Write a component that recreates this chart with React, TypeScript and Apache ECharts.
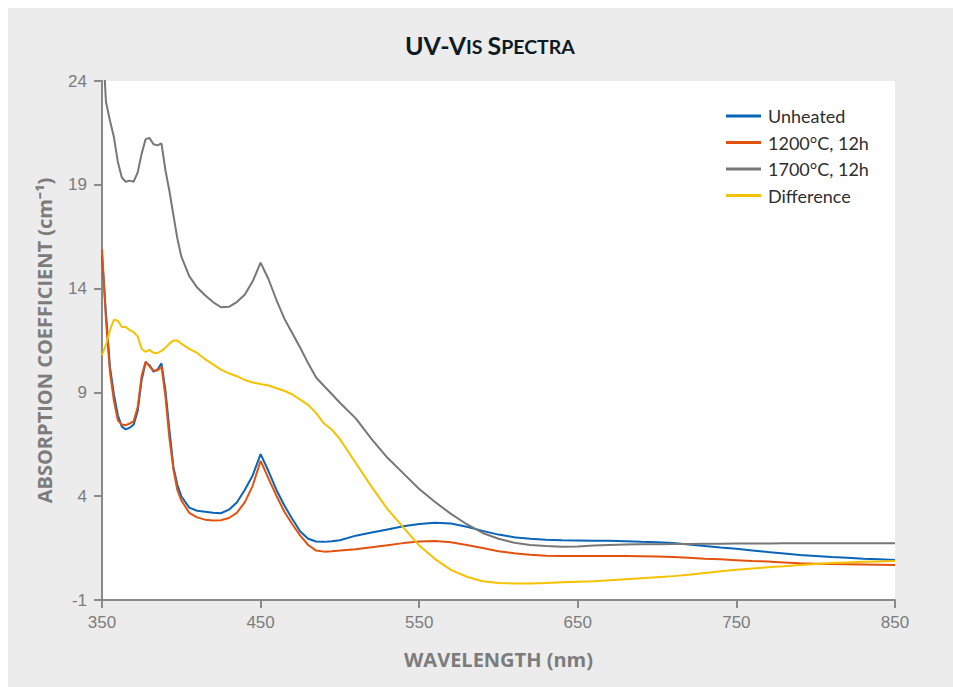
import React, { useEffect, useRef } from "react";
import * as echarts from "echarts";

const wavelengths = [
  350, 352.5, 355, 357.5, 360, 362.5, 365, 367.5, 370, 372.5, 375, 377.5, 380, 382.5, 385, 387.5, 390, 392.5, 395, 397.5,
  400, 405, 410, 415, 420, 425, 430, 435, 440, 445, 450, 455, 460, 465, 470, 475, 480, 485, 490, 495,
  500, 510, 520, 530, 540, 550, 560, 570, 580, 590, 600, 610, 620, 630, 640, 650, 660, 670, 680, 690,
  700, 710, 720, 730, 740, 750, 760, 770, 780, 790, 800, 810, 820, 830, 840, 850,
];

const unheated = [
  15.6, 12.8, 10.24, 8.9, 7.9, 7.35, 7.22, 7.3, 7.45, 8.1, 9.6, 10.45, 10.3, 10.0, 10.1, 10.4, 9.1, 7.2, 5.42, 4.55,
  4.0, 3.45, 3.3, 3.25, 3.2, 3.18, 3.35, 3.7, 4.3, 5.0, 6.03, 5.2, 4.3, 3.55, 2.9, 2.3, 1.95, 1.82, 1.8, 1.83,
  1.88, 2.1, 2.25, 2.4, 2.55, 2.66, 2.72, 2.68, 2.53, 2.33, 2.15, 2.02, 1.95, 1.9, 1.88, 1.87, 1.86, 1.85, 1.83, 1.8,
  1.78, 1.74, 1.67, 1.6, 1.53, 1.47, 1.39, 1.31, 1.24, 1.17, 1.12, 1.07, 1.03, 0.99, 0.96, 0.93,
];

const heated1200 = [
  15.9, 12.5, 10.0, 8.6, 7.65, 7.45, 7.42, 7.5, 7.62, 8.3, 9.8, 10.48, 10.25, 10.05, 10.05, 10.25, 8.8, 6.8, 5.3, 4.3,
  3.8, 3.2, 2.98, 2.87, 2.83, 2.84, 2.95, 3.2, 3.7, 4.5, 5.7, 4.85, 4.02, 3.25, 2.65, 2.1, 1.65, 1.38, 1.33, 1.35,
  1.38, 1.45, 1.54, 1.64, 1.74, 1.82, 1.84, 1.78, 1.65, 1.5, 1.35, 1.25, 1.18, 1.13, 1.12, 1.12, 1.12, 1.12, 1.12, 1.11,
  1.1, 1.07, 1.03, 0.99, 0.96, 0.92, 0.88, 0.85, 0.81, 0.77, 0.75, 0.73, 0.72, 0.71, 0.7, 0.69,
];

const heated1700 = [
  26.5, 23.0, 22.1, 21.3, 20.1, 19.35, 19.15, 19.2, 19.15, 19.6, 20.5, 21.2, 21.25, 20.95, 20.9, 21.0, 19.7, 18.7, 17.55, 16.42,
  15.55, 14.6, 14.05, 13.68, 13.35, 13.1, 13.12, 13.35, 13.7, 14.35, 15.25, 14.45, 13.45, 12.55, 11.85, 11.15, 10.4, 9.72, 9.31, 8.91,
  8.5, 7.75, 6.75, 5.85, 5.1, 4.35, 3.72, 3.15, 2.65, 2.23, 1.95, 1.76, 1.65, 1.6, 1.57, 1.58, 1.62, 1.65, 1.67, 1.68,
  1.69, 1.7, 1.7, 1.71, 1.71, 1.72, 1.72, 1.72, 1.73, 1.73, 1.73, 1.73, 1.73, 1.73, 1.73, 1.73,
];

const difference = [
  10.8, 11.3, 12.0, 12.5, 12.45, 12.15, 12.15, 12.0, 11.9, 11.7, 11.1, 10.95, 11.05, 10.9, 10.9, 11.0, 11.15, 11.35, 11.5, 11.5,
  11.35, 11.1, 10.9, 10.6, 10.35, 10.1, 9.92, 9.78, 9.6, 9.48, 9.4, 9.33, 9.2, 9.08, 8.9, 8.65, 8.4, 8.0, 7.5, 7.2,
  6.75, 5.6, 4.45, 3.38, 2.5, 1.62, 0.97, 0.45, 0.12, -0.1, -0.18, -0.2, -0.2, -0.18, -0.14, -0.12, -0.1, -0.05, 0.0, 0.05,
  0.1, 0.15, 0.22, 0.3, 0.38, 0.46, 0.52, 0.58, 0.63, 0.69, 0.74, 0.78, 0.81, 0.84, 0.86, 0.88,
];

const seriesNames = ["Unheated", "1200°C, 12h", "1700°C, 12h", "Difference"];
const seriesColors = ["#0a64b8", "#e2520e", "#777777", "#f5c200"];
const seriesValues = [unheated, heated1200, heated1700, difference];

const xTicks = { min: 350, max: 850, interval: 100 };
const yTicks = { min: -1, max: 24, interval: 5 };

export default function App() {
  const ref = useRef<HTMLDivElement>(null);

  useEffect(() => {
    if (!ref.current) return;
    const chart = echarts.init(ref.current, undefined, { renderer: "svg" });
    const axisGray = "#8a8a8a";
    const labelGray = "#7c7c7c";
    const titleColor = "#0e1a24";
    chart.setOption({
      animation: false,
      backgroundColor: "#ececec",
      title: {
        text: "{b|UV-V}{s|IS} {b|S}{s|PECTRA}",
        left: 392,
        top: 19,
        textStyle: {
          rich: {
            b: { fontFamily: "Lato", fontWeight: "bold", fontSize: 25, color: titleColor, verticalAlign: "bottom" },
            s: {
              fontFamily: "Lato",
              fontWeight: "bold",
              fontSize: 19.5,
              color: titleColor,
              verticalAlign: "bottom",
              padding: [0, 0, 1, 0],
            },
          },
        },
      },
      legend: {
        orient: "vertical",
        left: 713,
        top: 93,
        icon: "rect",
        itemWidth: 35,
        itemHeight: 3,
        itemGap: 6.5,
        data: seriesNames,
        textStyle: {
          fontFamily: "Lato",
          fontSize: 18,
          color: "#2e2e2e",
          lineHeight: 20,
          padding: [0, 0, 0, 2],
        },
      },
      grid: {
        left: 94,
        top: 73,
        width: 793,
        height: 519,
        show: true,
        backgroundColor: "#ffffff",
        borderWidth: 0,
      },
      xAxis: {
        type: "value",
        min: xTicks.min,
        max: xTicks.max,
        interval: xTicks.interval,
        name: "WAVELENGTH (nm)",
        nameLocation: "middle",
        nameGap: 49,
        nameTextStyle: { fontFamily: "Open Sans", fontWeight: "bold", fontSize: 20, color: labelGray },
        axisLine: { onZero: false, lineStyle: { color: axisGray, width: 2 } },
        axisTick: { length: 8, lineStyle: { color: axisGray, width: 2 } },
        axisLabel: { margin: 14, fontFamily: "Liberation Sans", fontSize: 17, color: labelGray },
        splitLine: { show: false },
      },
      yAxis: {
        type: "value",
        min: yTicks.min,
        max: yTicks.max,
        interval: yTicks.interval,
        name: "ABSORPTION COEFFICIENT (cm⁻¹)",
        nameLocation: "middle",
        nameGap: 48,
        nameTextStyle: { fontFamily: "Open Sans", fontWeight: "bold", fontSize: 20, color: labelGray },
        axisLine: { show: true, onZero: false, lineStyle: { color: axisGray, width: 2 } },
        axisTick: { show: true, length: 8, lineStyle: { color: axisGray, width: 2 } },
        axisLabel: { margin: 15, fontFamily: "Liberation Sans", fontSize: 17, color: labelGray },
        splitLine: { show: false },
      },
      series: seriesNames.map((name, i) => ({
        name,
        type: "line",
        showSymbol: false,
        symbol: "none",
        clip: true,
        smooth: false,
        color: seriesColors[i],
        lineStyle: { color: seriesColors[i], width: 2 },
        data: wavelengths.map((w, j) => [w, seriesValues[i][j]]),
      })),
    });
    return () => chart.dispose();
  }, []);

  return (
    <div
      ref={ref}
      style={{ position: "fixed", left: 8, top: 8, width: 945, height: 679 }}
    />
  );
}
